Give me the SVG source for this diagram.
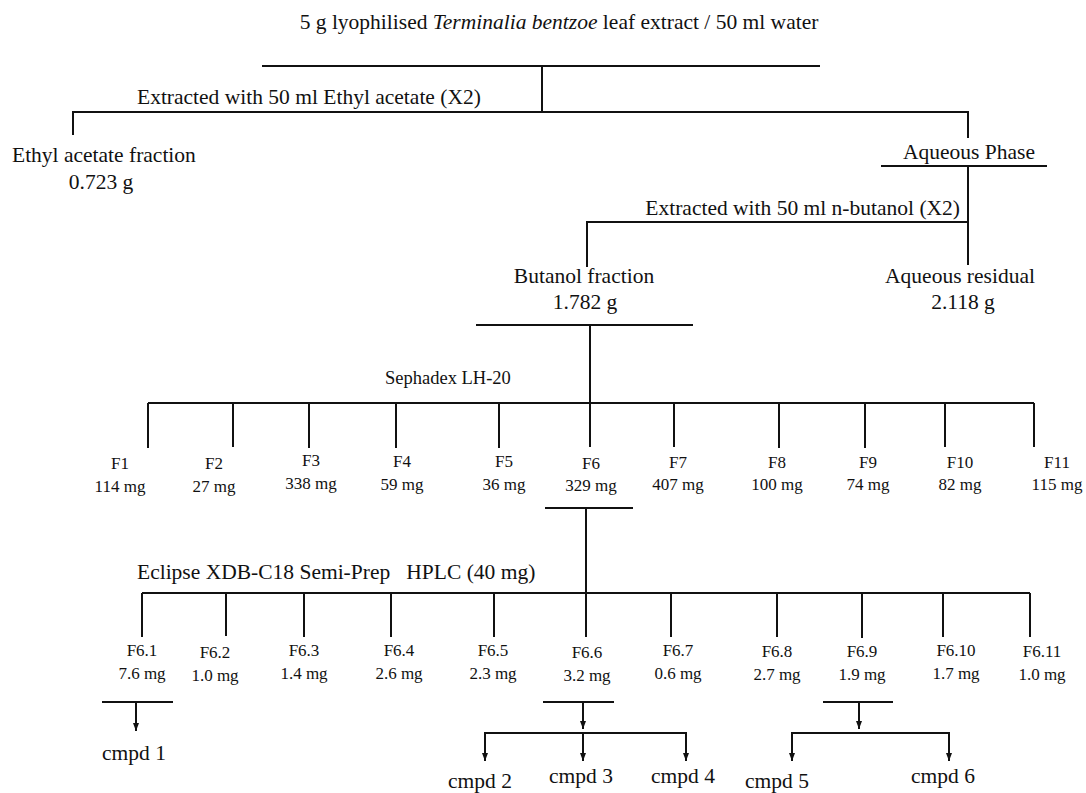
<svg xmlns="http://www.w3.org/2000/svg" width="1086" height="793" viewBox="0 0 1086 793">
<defs>
<style>
text{font-family:"Liberation Serif","Times New Roman",serif;fill:#111;}
.m{font-size:21.5px;}
.s{font-size:17px;text-anchor:middle;}
.c{text-anchor:middle;}
line,path.l{stroke:#111;stroke-width:2;fill:none;}
.a{marker-end:url(#ah);}
</style>
<marker id="ah" viewBox="0 0 8 6" refX="8" refY="3" markerWidth="8" markerHeight="6" markerUnits="userSpaceOnUse" orient="auto">
<path d="M0,0 L8,3 L0,6 z" fill="#111"/>
</marker>
</defs>
<rect width="1086" height="793" fill="#fff"/>
<g id="connectors">
<line x1="262" y1="66" x2="820" y2="66"/>
<line x1="542" y1="66" x2="542" y2="112"/>
<path class="l" d="M73,135 V112 H968 V138"/>
<line x1="881" y1="166" x2="1047" y2="166"/>
<line x1="968" y1="166" x2="968" y2="265"/>
<path class="l" d="M587,267 V222 H968"/>
<line x1="476" y1="325" x2="693" y2="325"/>
<line x1="590" y1="325" x2="590" y2="403"/>
<line x1="148" y1="403" x2="1034" y2="403"/>
<path class="l" d="M148,403 V448 M233,403 V447 M309,403 V448 M396,403 V448 M499,403 V448 M590,403 V447 M674,403 V447 M779,403 V448 M865,403 V448 M945,403 V447 M1034,403 V447"/>
<line x1="545" y1="508" x2="633" y2="508"/>
<line x1="586" y1="508" x2="586" y2="593"/>
<line x1="142" y1="593" x2="1030" y2="593"/>
<path class="l" d="M142,593 V637 M226,593 V636 M304,593 V637 M391,593 V637 M494,593 V637 M586,593 V637 M671,593 V637 M777,593 V637 M862,593 V638 M943,593 V637 M1030,593 V637"/>
<line x1="102" y1="702" x2="173" y2="702"/>
<line x1="543" y1="702" x2="614" y2="702"/>
<line x1="823" y1="702" x2="893" y2="702"/>
<line class="a" x1="136" y1="702" x2="136" y2="731"/>
<line class="a" x1="583" y1="702" x2="583" y2="729"/>
<line class="a" x1="859" y1="702" x2="859" y2="729"/>
<line x1="485" y1="733" x2="686" y2="733"/>
<line x1="792" y1="733" x2="949" y2="733"/>
<line class="a" x1="485" y1="732" x2="485" y2="761"/>
<line class="a" x1="583" y1="732" x2="583" y2="761"/>
<line class="a" x1="686" y1="732" x2="686" y2="761"/>
<line class="a" x1="792" y1="732" x2="792" y2="761"/>
<line class="a" x1="949" y1="732" x2="949" y2="761"/>
</g>
<g id="n-start"><text class="m c" x="559" y="29">5 g lyophilised <tspan font-style="italic">Terminalia bentzoe</tspan> leaf extract / 50 ml water</text></g>
<g id="l-ea"><text class="m" x="137" y="104">Extracted with 50 ml Ethyl acetate (X2)</text></g>
<g id="n-ea"><text class="m" x="12" y="162">Ethyl acetate fraction</text><text class="m c" x="101" y="189">0.723 g</text></g>
<g id="n-aq"><text class="m c" x="969" y="159">Aqueous Phase</text></g>
<g id="l-bu"><text class="m" x="960" y="215" text-anchor="end">Extracted with 50 ml n-butanol (X2)</text></g>
<g id="n-bu"><text class="m c" x="584" y="283">Butanol fraction</text><text class="m c" x="585" y="309">1.782 g</text></g>
<g id="n-ar"><text class="m c" x="960" y="283">Aqueous residual</text><text class="m c" x="963" y="309">2.118 g</text></g>
<g id="l-seph"><text x="385" y="384" style="font-size:18.5px">Sephadex LH-20</text></g>
<g id="n-F1"><text class="s" x="120" y="469">F1</text><text class="s" x="120" y="492">114 mg</text></g>
<g id="n-F2"><text class="s" x="214" y="469">F2</text><text class="s" x="214" y="492">27 mg</text></g>
<g id="n-F3"><text class="s" x="311" y="466">F3</text><text class="s" x="311" y="489">338 mg</text></g>
<g id="n-F4"><text class="s" x="402" y="467">F4</text><text class="s" x="402" y="490">59 mg</text></g>
<g id="n-F5"><text class="s" x="504" y="467">F5</text><text class="s" x="504" y="490">36 mg</text></g>
<g id="n-F6"><text class="s" x="591" y="469">F6</text><text class="s" x="591" y="491">329 mg</text></g>
<g id="n-F7"><text class="s" x="678" y="468">F7</text><text class="s" x="678" y="490">407 mg</text></g>
<g id="n-F8"><text class="s" x="777" y="468">F8</text><text class="s" x="777" y="490">100 mg</text></g>
<g id="n-F9"><text class="s" x="868" y="468">F9</text><text class="s" x="868" y="490">74 mg</text></g>
<g id="n-F10"><text class="s" x="960" y="468">F10</text><text class="s" x="960" y="490">82 mg</text></g>
<g id="n-F11"><text class="s" x="1057" y="468">F11</text><text class="s" x="1057" y="490">115 mg</text></g>
<g id="l-hplc"><text class="m" x="137" y="579" style="white-space:pre">Eclipse XDB-C18 Semi-Prep   HPLC (40 mg)</text></g>
<g id="n-F6-1"><text class="s" x="142" y="656">F6.1</text><text class="s" x="142" y="679">7.6 mg</text></g>
<g id="n-F6-2"><text class="s" x="215" y="658">F6.2</text><text class="s" x="215" y="681">1.0 mg</text></g>
<g id="n-F6-3"><text class="s" x="304" y="656">F6.3</text><text class="s" x="304" y="679">1.4 mg</text></g>
<g id="n-F6-4"><text class="s" x="399" y="656">F6.4</text><text class="s" x="399" y="679">2.6 mg</text></g>
<g id="n-F6-5"><text class="s" x="493" y="656">F6.5</text><text class="s" x="493" y="679">2.3 mg</text></g>
<g id="n-F6-6"><text class="s" x="587" y="658">F6.6</text><text class="s" x="587" y="681">3.2 mg</text></g>
<g id="n-F6-7"><text class="s" x="678" y="656">F6.7</text><text class="s" x="678" y="679">0.6 mg</text></g>
<g id="n-F6-8"><text class="s" x="777" y="657">F6.8</text><text class="s" x="777" y="680">2.7 mg</text></g>
<g id="n-F6-9"><text class="s" x="862" y="657">F6.9</text><text class="s" x="862" y="680">1.9 mg</text></g>
<g id="n-F6-10"><text class="s" x="956" y="656">F6.10</text><text class="s" x="956" y="679">1.7 mg</text></g>
<g id="n-F6-11"><text class="s" x="1042" y="657">F6.11</text><text class="s" x="1042" y="680">1.0 mg</text></g>
<g id="n-c1"><text class="m c" x="134" y="760">cmpd 1</text></g>
<g id="n-c2"><text class="m c" x="480" y="788">cmpd 2</text></g>
<g id="n-c3"><text class="m c" x="581" y="783">cmpd 3</text></g>
<g id="n-c4"><text class="m c" x="683" y="783">cmpd 4</text></g>
<g id="n-c5"><text class="m c" x="777" y="788">cmpd 5</text></g>
<g id="n-c6"><text class="m c" x="943" y="783">cmpd 6</text></g>
</svg>
